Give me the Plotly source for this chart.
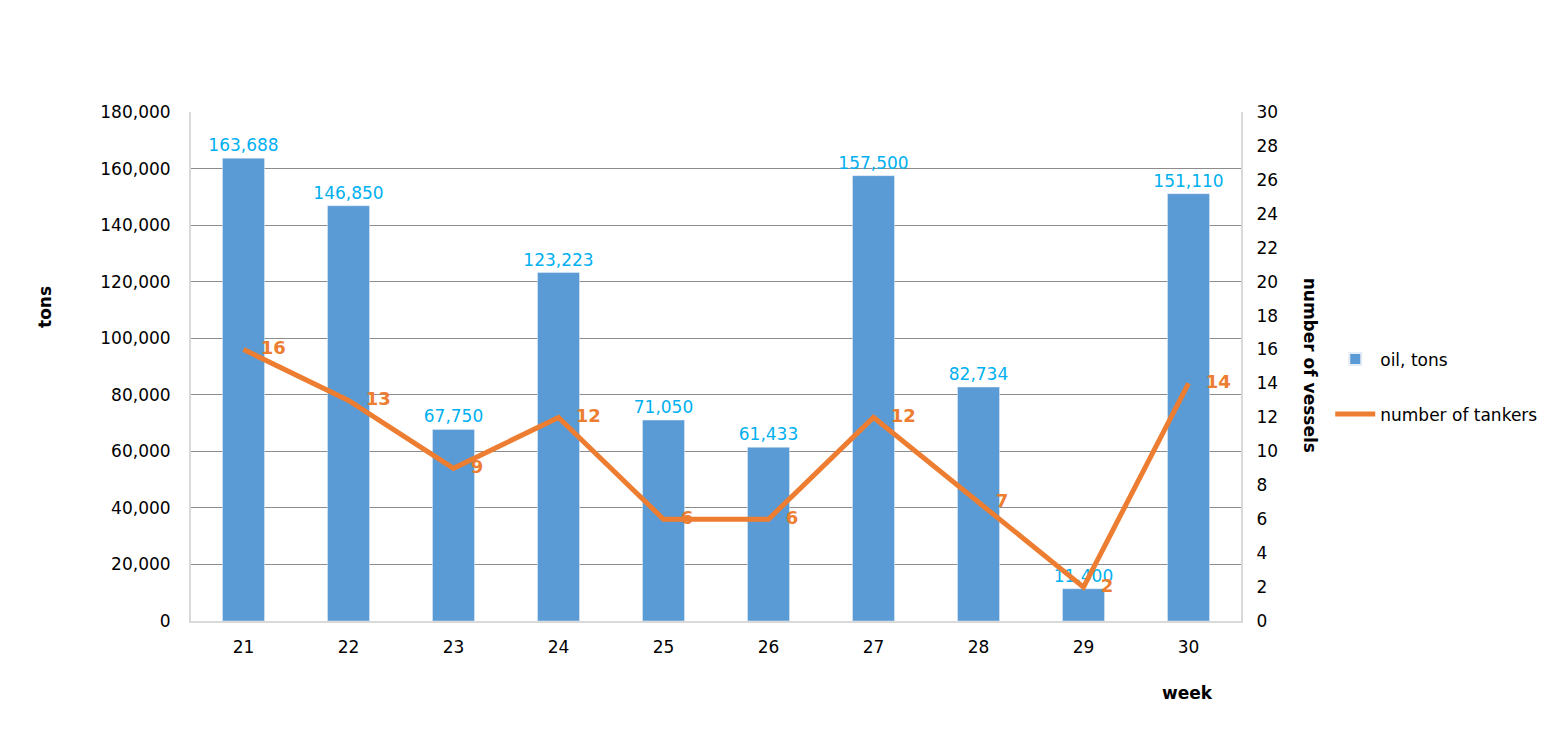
import plotly.graph_objects as go

weeks = ["21", "22", "23", "24", "25", "26", "27", "28", "29", "30"]
oil_tons = [163688, 146850, 67750, 123223, 71050, 61433, 157500, 82734, 11400, 151110]
tankers = [16, 13, 9, 12, 6, 6, 12, 7, 2, 14]

FONT = "DejaVu Sans"
NB = "\u00a0"

fig = go.Figure()
fig.add_trace(go.Bar(
    x=weeks, y=oil_tons, name="oil, tons", legendgroup="a",
    marker_color="#5B9BD5", width=0.4,
    texttemplate="%{y:,}", textposition="outside", constraintext="none",
    textfont=dict(color="#00B0F0", size=17, family=FONT),
    cliponaxis=False,
))
fig.add_trace(go.Scatter(
    x=weeks, y=tankers, name="number of tankers", yaxis="y2", legendgroup="b",
    mode="lines+text", line=dict(color="#ED7D31", width=5),
    text=[NB * 3 + "<b>%d</b>" % v for v in tankers], textposition="middle right",
    textfont=dict(color="#ED7D31", size=18, family=FONT),
    cliponaxis=False,
))

fig.update_layout(
    width=1564, height=740,
    margin=dict(l=183, r=331, t=104, b=127),
    plot_bgcolor="white", paper_bgcolor="white",
    font=dict(family=FONT, size=17, color="black"),
    bargap=0.6,
    xaxis=dict(type="category", showline=True, linecolor="#D9D9D9", linewidth=2,
               ticks="", ticklabelstandoff=10),
    yaxis=dict(range=[0, 180000], dtick=20000, tickformat=",", showgrid=True,
               gridcolor="#8C8C8C", gridwidth=1, showline=True, linecolor="#D9D9D9",
               linewidth=2, zeroline=False, ticklabelstandoff=15),
    yaxis2=dict(range=[0, 30], dtick=2, overlaying="y", side="right", showgrid=False,
                showline=True, linecolor="#D9D9D9", linewidth=2, zeroline=False,
                ticklabelstandoff=10),
    legend=dict(x=1.085, y=0.46, xanchor="left", yanchor="middle",
                font=dict(size=17, family=FONT), tracegroupgap=30,
                itemwidth=40, itemsizing="constant"),
    showlegend=True,
    annotations=[
        dict(text="<b>tons</b>", textangle=-90, xref="paper", yref="paper",
             x=-0.139, y=0.617, xanchor="center", yanchor="middle",
             showarrow=False, font=dict(size=17)),
        dict(text="<b>number of vessels</b>", textangle=90, xref="paper", yref="paper",
             x=1.066, y=0.503, xanchor="center", yanchor="middle",
             showarrow=False, font=dict(size=17)),
        dict(text="<b>week</b>", xref="paper", yref="paper",
             x=0.9495, y=-0.1415, xanchor="center", yanchor="middle",
             showarrow=False, font=dict(size=17)),
    ],
)

fig.write_html("out.html")
